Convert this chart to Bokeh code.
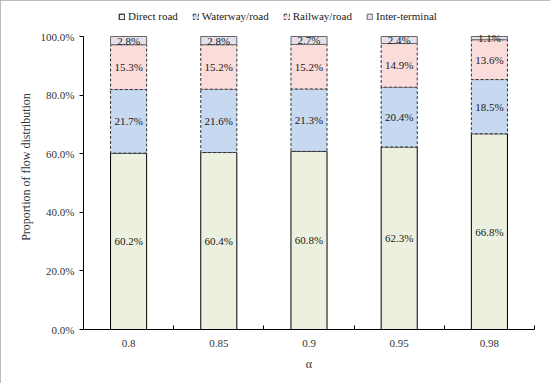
from bokeh.plotting import figure
from bokeh.models import (ColumnDataSource, Range1d, LinearAxis,
                          FixedTicker, NumeralTickFormatter, Legend, LegendItem)
from bokeh.embed import file_html
from bokeh.resources import INLINE
from bokeh.core.properties import value

alphas = ["0.8", "0.85", "0.9", "0.95", "0.98"]
direct_road = [60.2, 60.4, 60.8, 62.3, 66.8]
waterway_road = [21.7, 21.6, 21.3, 20.4, 18.5]
railway_road = [15.3, 15.2, 15.2, 14.9, 13.6]
inter_terminal = [2.8, 2.8, 2.7, 2.4, 1.1]
series_names = ["Direct road", "Waterway/road", "Railway/road", "Inter-terminal"]
y_ticks = [0.0, 0.2, 0.4, 0.6, 0.8, 1.0]

FONT = "Liberation Serif"
series = [direct_road, waterway_road, railway_road, inter_terminal]
keys = ["direct", "water", "rail", "inter"]
fills = ["#EBF1DE", "#C6D9F1", "#FADCDB", "#E5E0EC"]

n = len(alphas)
centers = [i + 0.5 for i in range(n)]
data = {"x": centers}
for k, s in zip(keys, series):
    data[k] = [v / 100 for v in s]
src = ColumnDataSource(data)

# frame extends above 100% so the legend can sit inside it
p = figure(width=550, height=383, x_range=Range1d(0, n), y_range=Range1d(0, 1 + 32 / 293),
           x_axis_location=None, output_backend="svg", toolbar_location=None,
           min_border_left=83, min_border_right=16, min_border_top=4, min_border_bottom=54)
p.outline_line_color = None
p.border_fill_color = "white"
p.xgrid.grid_line_color = None
p.ygrid.grid_line_color = None
p.styles = {"outline": "1px solid #a6a6a6", "outline-offset": "-1px"}

rs = p.vbar_stack(keys, x="x", width=0.4, source=src, fill_color=fills, line_color="black")
styles = [("black", "solid"), ("#333333", "3 2"), ("#333333", "3 2"), ("#666666", "solid")]
for r, (lc, ld) in zip(rs, styles):
    r.glyph.line_color = lc
    r.glyph.line_dash = ld
    r.glyph.line_width = 1

# segment labels
lx, ly, lt = [], [], []
for i, c in enumerate(centers):
    cum = 0.0
    for s in series:
        v = s[i]
        lx.append(c)
        ly.append((cum + v / 2) / 100)
        lt.append(f"{v:.1f}%")
        cum += v
lsrc = ColumnDataSource(dict(x=lx, y=ly, t=lt))
p.text(x="x", y="y", text="t", source=lsrc, text_align="center", text_baseline="middle",
       text_font=value(FONT), text_font_size="11px", text_color="#1a1a1a")

# y axis
ya = p.yaxis[0]
ya.bounds = (0, 1)
ya.ticker = FixedTicker(ticks=y_ticks)
ya.formatter = NumeralTickFormatter(format="0.0%")
ya.minor_tick_line_color = None
ya.major_tick_in = 0
ya.major_tick_out = 4
ya.major_label_standoff = 5
ya.axis_line_color = "black"
ya.major_label_text_font = FONT
ya.major_label_text_font_size = "11px"
ya.major_label_text_color = "#333333"
ya.axis_label = "Proportion of flow distribution"
ya.axis_label_text_font = FONT
ya.axis_label_text_font_size = "12px"
ya.axis_label_text_font_style = "normal"
ya.axis_label_text_color = "#333333"
ya.axis_label_standoff = 5

# x axis: tick marks at category boundaries
tick_axis = LinearAxis(ticker=FixedTicker(ticks=list(range(1, n + 1))),
                       major_tick_in=4, major_tick_out=0, minor_tick_line_color=None,
                       major_label_text_font_size="0px", major_label_standoff=0,
                       axis_line_color="black")
p.add_layout(tick_axis, "below")
label_axis = LinearAxis(ticker=FixedTicker(ticks=centers),
                        major_label_overrides={c: a for c, a in zip(centers, alphas)},
                        axis_line_color=None, major_tick_line_color=None, minor_tick_line_color=None,
                        major_tick_in=0, major_tick_out=0,
                        major_label_text_font=FONT, major_label_text_font_size="11px",
                        major_label_text_color="#333333", major_label_standoff=10,
                        axis_label="α", axis_label_text_font=FONT,
                        axis_label_text_font_size="12px", axis_label_text_font_style="normal",
                        axis_label_text_color="#333333", axis_label_standoff=7)
p.add_layout(label_axis, "below")

legend = Legend(items=[LegendItem(label=nm, renderers=[r]) for nm, r in zip(series_names, rs)],
                location=(35, 307), orientation="horizontal", padding=0, margin=0,
                border_line_color=None, background_fill_alpha=0,
                glyph_width=7, glyph_height=7, label_standoff=3, spacing=14,
                label_text_font=FONT, label_text_font_size="11px", label_text_color="#1a1a1a",
                label_height=12)
p.add_layout(legend, "center")

open("out.html", "w").write(file_html(p, INLINE))
